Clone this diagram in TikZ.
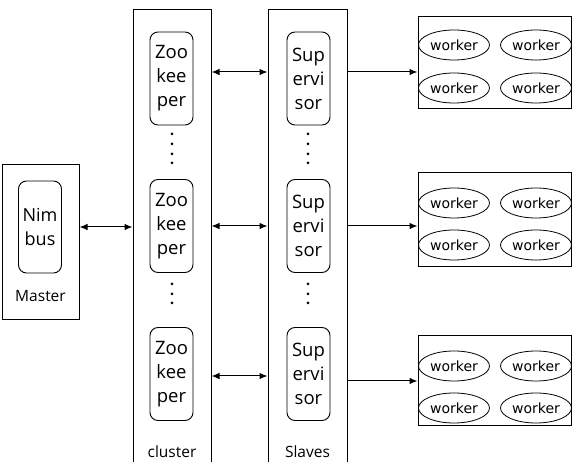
\documentclass[tikz,border=0pt]{standalone}
\usepackage{fontspec}
\setmainfont{Open Sans}
\newfontfamily\wfont{DejaVu Sans}
\usetikzlibrary{arrows.meta,shapes.geometric}
\tikzset{
  bigbox/.style={draw, line width=1pt, inner sep=0pt},
  innerbox/.style={draw, line width=0.9pt, rounded corners=8pt, minimum width=43pt, minimum height=93pt, align=center, inner sep=0pt, font=\fontsize{18.5}{24}\selectfont},
  wk/.style={draw, line width=0.8pt, ellipse, minimum width=71pt, minimum height=30pt, inner sep=0pt, font=\wfont\fontsize{14}{16}\selectfont},
  lbl/.style={font=\fontsize{15.5}{17}\selectfont, inner sep=0pt},
  arr/.style={-{Latex[length=8pt,width=6.5pt]}, line width=1pt},
  darr/.style={{Latex[length=8pt,width=6.5pt]}-{Latex[length=8pt,width=6.5pt]}, line width=1pt},
  dotc/.style={fill, circle, minimum size=3pt, inner sep=0pt}
}
\begin{document}
\begin{tikzpicture}[x=1pt,y=-1pt]
\useasboundingbox (0,0) rectangle (574,462);
% master
\node[bigbox, minimum width=77pt, minimum height=155pt] (master) at (40.5,242.5) {};
\node[innerbox, minimum height=92pt, font=\fontsize{18}{24}\selectfont] (nimbus) at (40,227) {Nim\\bus};
\node[lbl] (masterlbl) at (40.5,296) {Master};
% cluster and slaves
\node[bigbox, minimum width=78pt, minimum height=480pt] (cluster) at (172,250) {};
\node[bigbox, minimum width=79pt, minimum height=480pt] (slaves) at (307.5,250) {};
\node[lbl] (clusterlbl) at (172,452) {cluster};
\node[lbl] (slaveslbl) at (307.5,452) {Slaves};
% zookeepers
\node[innerbox] (zk1) at (171.5,78.5) {Zoo\\kee\\per};
\node[innerbox] (zk2) at (171.5,226) {Zoo\\kee\\per};
\node[innerbox] (zk3) at (171.5,374) {Zoo\\kee\\per};
% supervisors
\node[innerbox] (sp1) at (308.5,78.5) {Sup\\ervi\\sor};
\node[innerbox] (sp2) at (308.5,226) {Sup\\ervi\\sor};
\node[innerbox] (sp3) at (308.5,374) {Sup\\ervi\\sor};
% dots
\foreach \yy [count=\i] in {134,144,154,163} {
  \node[dotc] (zda\i) at (172,\yy) {};
  \node[dotc] (sda\i) at (308,\yy) {};
}
\foreach \yy [count=\i] in {284,294,303} {
  \node[dotc] (zdb\i) at (172,\yy) {};
  \node[dotc] (sdb\i) at (308,\yy) {};
}
% worker boxes
\node[bigbox, minimum width=153pt, minimum height=92pt] (wb1) at (494.5,63) {};
\node[bigbox, minimum width=153pt, minimum height=94pt] (wb2) at (494.5,220) {};
\node[bigbox, minimum width=153pt, minimum height=90pt] (wb3) at (494.5,381) {};
\node[wk] (w11) at (454,45) {worker};
\node[wk] (w12) at (536,45) {worker};
\node[wk] (w13) at (454,88) {worker};
\node[wk] (w14) at (536,88) {worker};
\node[wk] (w21) at (454,203) {worker};
\node[wk] (w22) at (536,203) {worker};
\node[wk] (w23) at (454,245) {worker};
\node[wk] (w24) at (536,245) {worker};
\node[wk] (w31) at (454,366) {worker};
\node[wk] (w32) at (536,366) {worker};
\node[wk] (w33) at (454,408) {worker};
\node[wk] (w34) at (536,408) {worker};
% arrow levels
\coordinate (l1) at (0,72);
\coordinate (l2) at (0,226);
\coordinate (l3) at (0,376);
\coordinate (m3) at (0,381);
\draw[darr] (master.east |- nimbus) -- (cluster.west |- nimbus);
\draw[darr] (cluster.east |- l1) -- (slaves.west |- l1);
\draw[darr] (cluster.east |- l2) -- (slaves.west |- l2);
\draw[darr] (cluster.east |- l3) -- (slaves.west |- l3);
\draw[arr] (slaves.east |- l1) -- (wb1.west |- l1);
\draw[arr] (slaves.east |- l2) -- (wb2.west |- l2);
\draw[arr] (slaves.east |- m3) -- (wb3.west |- m3);
\end{tikzpicture}
\end{document}
